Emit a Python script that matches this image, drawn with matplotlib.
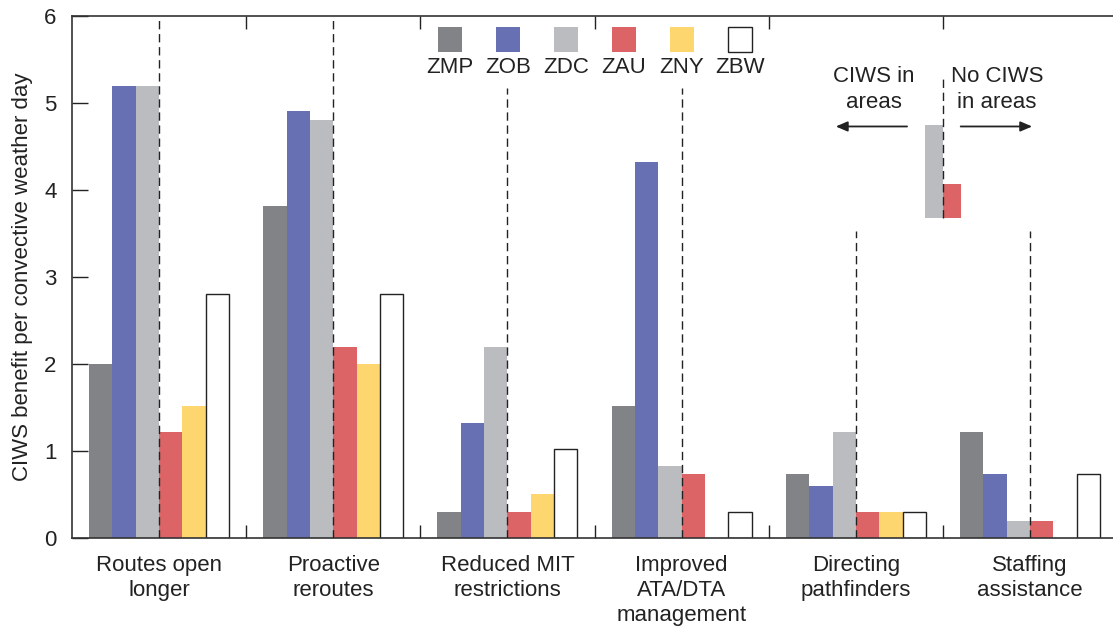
"""CIWS benefit per convective weather day, grouped by benefit category and ARTCC."""
import matplotlib

matplotlib.use("Agg")
import matplotlib.pyplot as plt  # noqa: E402
import numpy as np  # noqa: E402
from matplotlib.patches import Rectangle  # noqa: E402

plt.rcParams["font.family"] = ["Liberation Sans", "DejaVu Sans"]

categories = ["Routes open\nlonger", "Proactive\nreroutes", "Reduced MIT\nrestrictions",
              "Improved\nATA/DTA\nmanagement", "Directing\npathfinders", "Staffing\nassistance"]
centers = ["ZMP", "ZOB", "ZDC", "ZAU", "ZNY", "ZBW"]
zmp = [2.0, 3.82, 0.3, 1.52, 0.73, 1.22]
zob = [5.2, 4.91, 1.32, 4.32, 0.6, 0.73]
zdc = [5.2, 4.8, 2.2, 0.83, 1.22, 0.2]
zau = [1.22, 2.2, 0.3, 0.73, 0.3, 0.2]
zny = [1.52, 2.0, 0.5, 0.0, 0.3, 0.0]
zbw = [2.8, 2.8, 1.02, 0.3, 0.3, 0.73]
divider_top = [6.0, 6.0, 5.17, 5.17, 3.53, 3.53]

# small key in the upper right: ZDC / ZAU bars either side of the divider
key_base = 3.68
key_heights = [1.07, 0.39]

colors = ["#828387", "#6870b4", "#bbbcc0", "#dd6466", "#fed66f", "white"]
series = [zmp, zob, zdc, zau, zny, zbw]
INK = "#222222"

fig = plt.figure(figsize=(11.13, 6.27), dpi=100)
ax = fig.add_axes([0.0647, 0.142, 0.939, 0.8325])

x = np.arange(len(categories)) + 0.5
w = 0.134
for k, (vals, col) in enumerate(zip(series, colors)):
    edge = INK if col == "white" else "none"
    heights = np.array(vals)
    xs = x + (k - 2.5) * w
    keep = heights > 0
    ax.bar(xs[keep], heights[keep], width=w, color=col, edgecolor=edge,
           linewidth=1.0, zorder=2)

dash = (0, (6.0, 3.4))
ax.vlines(x, 0, divider_top, colors=INK, linewidth=1.0, linestyles=[dash], zorder=3)

# key
kx = 5.0
kw = 0.103
for h, col, side in zip(key_heights, [colors[2], colors[3]], [-1, 1]):
    ax.bar(kx + side * kw / 2, h, bottom=key_base, width=kw, color=col, zorder=2)
ax.vlines(kx, key_base, 5.27, colors=INK, linewidth=1.0, linestyles=[dash], zorder=3)
ax.text(4.604, 5.155, "CIWS in\nareas", ha="center", va="center", fontsize=16,
        color=INK, linespacing=1.28)
ax.text(5.31, 5.155, "No CIWS\nin areas", ha="center", va="center", fontsize=16,
        color=INK, linespacing=1.28)
arrow = dict(arrowstyle="-|>,head_length=0.7,head_width=0.3", color=INK, lw=1.3)
ax.annotate("", xy=(4.369, 4.73), xytext=(4.81, 4.73), arrowprops=arrow)
ax.annotate("", xy=(5.528, 4.73), xytext=(5.086, 4.73), arrowprops=arrow)

# legend: swatches with labels underneath
for k, (name, col) in enumerate(zip(centers, colors)):
    lx = 2.17 + k * 0.333
    ax.add_patch(Rectangle((lx - 0.069, 5.59), 0.138, 0.28, facecolor=col,
                           edgecolor=INK if col == "white" else "none",
                           linewidth=1.0, zorder=4, clip_on=False))
    ax.text(lx, 5.41, name, ha="center", va="center", fontsize=16, color=INK)

ax.set_xlim(0, 6)
ax.set_ylim(0, 6)
ax.set_xticks(x)
ax.set_xticklabels(categories, fontsize=16, color=INK, linespacing=1.25)
ax.set_xticks(np.arange(1, 6), minor=True)
ax.tick_params(axis="x", which="major", length=0, pad=12)
ax.tick_params(axis="x", which="minor", direction="in", length=9.4, width=1.0,
               top=True, bottom=True, color=INK)
ax.set_yticks(range(7))
ax.tick_params(axis="y", direction="in", length=11.5, width=1.0, pad=11,
               labelsize=16, labelcolor=INK, color=INK)
ax.set_ylabel("CIWS benefit per convective weather day", fontsize=16, color=INK,
              labelpad=8)
ax.spines["right"].set_visible(False)
for s in ("left", "bottom", "top"):
    ax.spines[s].set_linewidth(1.2)
    ax.spines[s].set_color("#333333")

fig.savefig("out.png", dpi=100)
